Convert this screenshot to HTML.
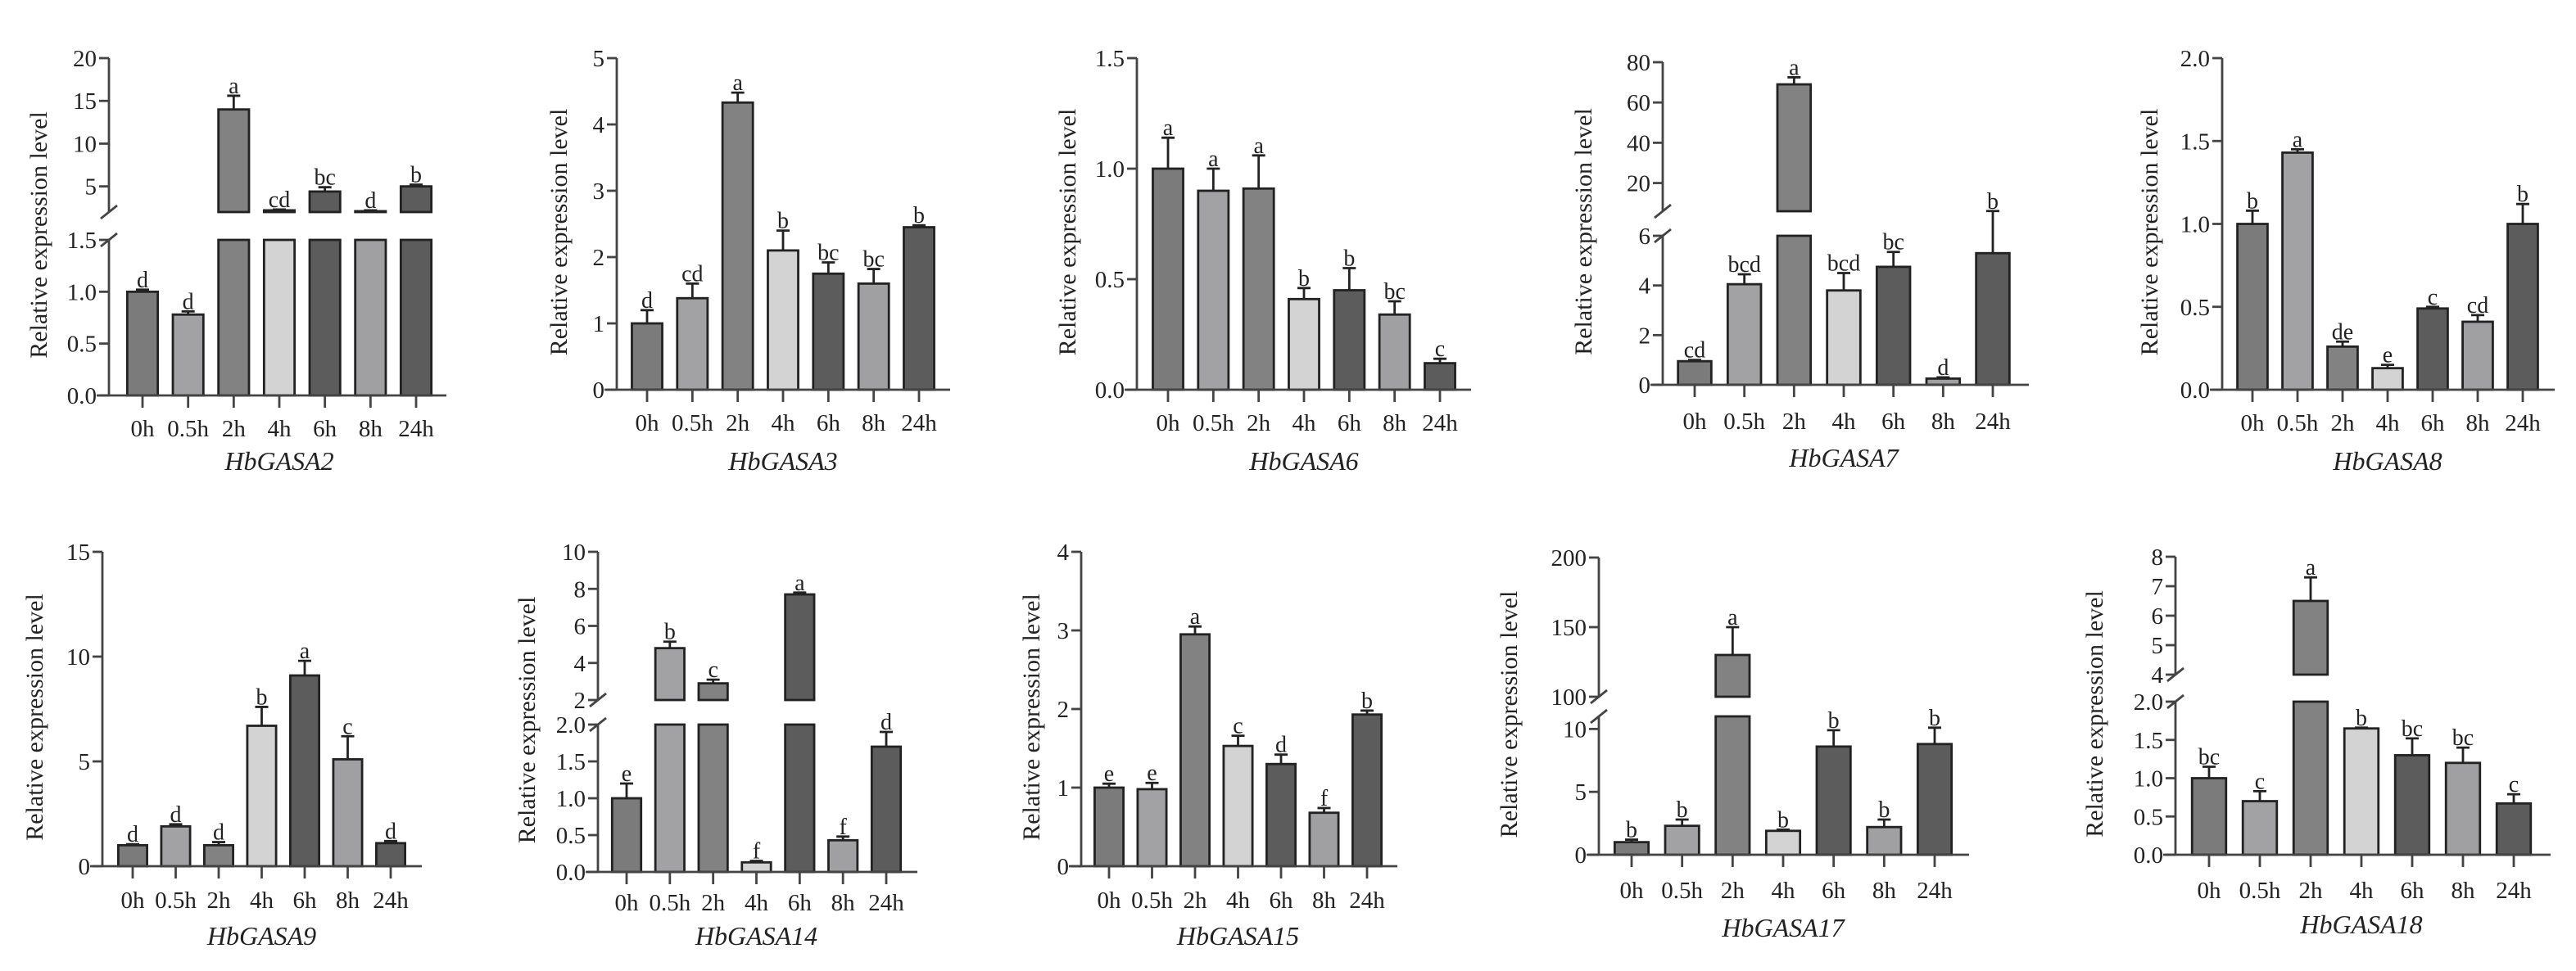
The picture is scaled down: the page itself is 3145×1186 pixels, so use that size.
<!DOCTYPE html>
<html><head><meta charset="utf-8">
<style>
html,body{margin:0;padding:0;background:#fff;}
svg{display:block;}
text{font-family:"Liberation Serif",serif;fill:#222;}
</style></head>
<body>
<svg id="chart" width="3145" height="1186" viewBox="0 0 3145 1186" xmlns="http://www.w3.org/2000/svg"></svg>
<script>
// shared categories
const categories = ["0h","0.5h","2h","4h","6h","8h","24h"];
const barColors = ["#7b7b7b","#a2a2a4","#828282","#d3d3d3","#5c5c5c","#a0a0a2","#5c5c5c"];

// HbGASA2
const g2Values = [1.0,0.78,14.0,2.2,4.4,2.1,5.0];
const g2Errors = [0.02,0.03,1.6,0.1,0.5,0.1,0.2];
const g2Letters = ["d","d","a","cd","bc","d","b"];
// HbGASA3
const g3Values = [1.0,1.38,4.33,2.1,1.75,1.6,2.45];
const g3Errors = [0.2,0.22,0.15,0.3,0.17,0.22,0.03];
const g3Letters = ["d","cd","a","b","bc","bc","b"];
// HbGASA6
const g6Values = [1.0,0.9,0.91,0.41,0.45,0.34,0.12];
const g6Errors = [0.14,0.1,0.15,0.05,0.1,0.06,0.02];
const g6Letters = ["a","a","a","b","b","bc","c"];
// HbGASA7
const g7Values = [0.95,4.05,69,3.8,4.75,0.25,5.3];
const g7Errors = [0.05,0.4,3.5,0.7,0.6,0.05,0.8];
const g7Letters = ["cd","bcd","a","bcd","bc","d","b"];
// HbGASA8
const g8Values = [1.0,1.43,0.26,0.13,0.49,0.41,1.0];
const g8Errors = [0.08,0.02,0.03,0.02,0.01,0.04,0.12];
const g8Letters = ["b","a","de","e","c","cd","b"];
// HbGASA9
const g9Values = [1.0,1.9,1.0,6.7,9.1,5.1,1.1];
const g9Errors = [0.05,0.1,0.15,0.9,0.7,1.1,0.1];
const g9Letters = ["d","d","d","b","a","c","d"];
// HbGASA14
const g14Values = [1.0,4.8,2.9,0.13,7.7,0.43,1.7];
const g14Errors = [0.2,0.35,0.2,0.02,0.1,0.05,0.2];
const g14Letters = ["e","b","c","f","a","f","d"];
// HbGASA15
const g15Values = [1.0,0.98,2.95,1.53,1.3,0.68,1.93];
const g15Errors = [0.05,0.08,0.1,0.13,0.12,0.06,0.05];
const g15Letters = ["e","e","a","c","d","f","b"];
// HbGASA17
const g17Values = [1.0,2.3,130,1.9,8.6,2.2,8.8];
const g17Errors = [0.2,0.5,20,0.1,1.3,0.6,1.3];
const g17Letters = ["b","b","a","b","b","b","b"];
// HbGASA18
const g18Values = [1.0,0.7,6.5,1.65,1.3,1.2,0.67];
const g18Errors = [0.15,0.13,0.8,0.01,0.22,0.2,0.12];
const g18Letters = ["bc","c","a","b","bc","bc","c"];

// tick labels
const tk2Low = ["0.0","0.5","1.0","1.5"], tk2Up = ["5","10","15","20"];
const tk3 = ["0","1","2","3","4","5"];
const tk6 = ["0.0","0.5","1.0","1.5"];
const tk7Low = ["0","2","4","6"], tk7Up = ["20","40","60","80"];
const tk8 = ["0.0","0.5","1.0","1.5","2.0"];
const tk9 = ["0","5","10","15"];
const tk14Low = ["0.0","0.5","1.0","1.5","2.0"], tk14Up = ["2","4","6","8","10"];
const tk15 = ["0","1","2","3","4"];
const tk17Low = ["0","5","10"], tk17Up = ["100","150","200"];
const tk18Low = ["0.0","0.5","1.0","1.5","2.0"], tk18Up = ["4","5","6","7","8"];

const panels = [
 {name:"HbGASA2", v:g2Values, e:g2Errors, l:g2Letters, ax:133, x0:174, x1:508, xe:545, ly:523, ty:564, yt:47, segs:[
   {d:[0,1.5], r:[483,293], t:tk2Low},{d:[2,20], r:[259,71], t:tk2Up}]},
 {name:"HbGASA3", v:g3Values, e:g3Errors, l:g3Letters, ax:753, x0:790, x1:1122, xe:1160, ly:516, ty:564, yt:682, segs:[
   {d:[0,5], r:[476,71], t:tk3}]},
 {name:"HbGASA6", v:g6Values, e:g6Errors, l:g6Letters, ax:1388, x0:1426, x1:1758, xe:1796, ly:516, ty:564, yt:1303, segs:[
   {d:[0,1.5], r:[476,71], t:tk6}]},
 {name:"HbGASA7", v:g7Values, e:g7Errors, l:g7Letters, ax:2030, x0:2069, x1:2433, xe:2477, ly:514, ty:560, yt:1933, segs:[
   {d:[0,6], r:[470,288], t:tk7Low},{d:[6,80], r:[258,76], t:tk7Up}]},
 {name:"HbGASA8", v:g8Values, e:g8Errors, l:g8Letters, ax:2713, x0:2750, x1:3080, xe:3119, ly:516, ty:564, yt:2624, segs:[
   {d:[0,2], r:[476,71], t:tk8}]},
 {name:"HbGASA9", v:g9Values, e:g9Errors, l:g9Letters, ax:125, x0:162, x1:477, xe:515, ly:1099, ty:1144, yt:42, segs:[
   {d:[0,15], r:[1058,674], t:tk9}]},
 {name:"HbGASA14", v:g14Values, e:g14Errors, l:g14Letters, ax:730, x0:765, x1:1082, xe:1120, ly:1102, ty:1144, yt:643, segs:[
   {d:[0,2], r:[1065,885], t:tk14Low},{d:[2,10], r:[855,674], t:tk14Up}]},
 {name:"HbGASA15", v:g15Values, e:g15Errors, l:g15Letters, ax:1320, x0:1354, x1:1669, xe:1706, ly:1099, ty:1144, yt:1259, segs:[
   {d:[0,4], r:[1058,674], t:tk15}]},
 {name:"HbGASA17", v:g17Values, e:g17Errors, l:g17Letters, ax:1952, x0:1992, x1:2362, xe:2404, ly:1087, ty:1134, yt:1842, segs:[
   {d:[0,11], r:[1044,875], t:tk17Low},{d:[100,200], r:[851,681], t:tk17Up}]},
 {name:"HbGASA18", v:g18Values, e:g18Errors, l:g18Letters, ax:2656, x0:2697, x1:3069, xe:3114, ly:1087, ty:1130, yt:2557, segs:[
   {d:[0,2], r:[1044,857], t:tk18Low},{d:[4,8], r:[824,680], t:tk18Up}]}
];

const NS = "http://www.w3.org/2000/svg";
const svg = document.getElementById("chart");
function mk(tag, attrs, parent){
  const el = document.createElementNS(NS, tag);
  for (const k in attrs) el.setAttribute(k, attrs[k]);
  parent.appendChild(el);
  return el;
}
function scale(seg, val){
  return seg.r[0] + (val - seg.d[0]) / (seg.d[1] - seg.d[0]) * (seg.r[1] - seg.r[0]);
}
function yOf(p, val){
  for (let i = p.segs.length - 1; i >= 0; i--){
    const s = p.segs[i];
    if (val >= s.d[0] || i === 0) return scale(s, Math.min(val, s.d[1]));
  }
}

panels.forEach(function(p){
  const g = mk("g", {}, svg);
  
  
  const n = categories.length;
  const step = (p.x1 - p.x0) / (n - 1);
  const bw = step * 0.67;
  const xOf = function(i){ return p.x0 + i * step; };
  const base = p.segs[0].r[0];

  categories.forEach(function(c, i){
    const v = p.v[i];
    p.segs.forEach(function(s, si){
      if (v <= s.d[0] && si > 0) return;
      const top = scale(s, Math.min(v, s.d[1]));
      const bot = s.r[0];
      const r = mk("rect", {x:xOf(i)-bw/2, y:top, width:bw, height:Math.max(bot-top,0.5), fill:barColors[i], stroke:"#222", "stroke-width":2.8}, g);
      
      
    });
    const yv = yOf(p, v), ye = yOf(p, v + p.e[i]);
    const eb = mk("path", {d:"M"+xOf(i)+" "+yv+"V"+ye+"M"+(xOf(i)-8)+" "+ye+"H"+(xOf(i)+8), stroke:"#222", "stroke-width":2.8, fill:"none"}, g);
    
    
    const lt = mk("text", {x:xOf(i), y:ye-3, "text-anchor":"middle", "font-size":28}, g);
    lt.textContent = p.l[i];
    
    
    mk("line", {x1:xOf(i), x2:xOf(i), y1:base, y2:base+15, stroke:"#444", "stroke-width":2.8}, g);
    const xl = mk("text", {x:xOf(i), y:p.ly+10, "text-anchor":"middle", "font-size":29}, g);
    xl.textContent = c;
    
    
  });

  p.segs.forEach(function(s, si){
    const ymin = s.r[0], ymax = s.r[1];
    const ax = mk("line", {x1:p.ax, x2:p.ax, y1:ymin+(si===0?1:0), y2:ymax, stroke:"#444", "stroke-width":2.8}, g);
    
    
    s.t.forEach(function(lab){
      const val = parseFloat(lab);
      const y = scale(s, val);
      mk("line", {x1:p.ax-12, x2:p.ax, y1:y, y2:y, stroke:"#444", "stroke-width":2.8}, g);
      const tl = mk("text", {x:p.ax-15, y:y+10, "text-anchor":"end", "font-size":29}, g);
      tl.textContent = lab;
      
      
    });
    if (p.segs.length > 1){
      const yy = si === 0 ? ymax : ymin;
      mk("line", {x1:p.ax-10, x2:p.ax+10, y1:yy+8, y2:yy-8, stroke:"#444", "stroke-width":2.8}, g);
    }
  });
  const xa = mk("line", {x1:p.ax-15, x2:p.xe, y1:base, y2:base, stroke:"#444", "stroke-width":2.8}, g);
  
  

  const top = p.segs[p.segs.length-1].r[1];
  const cy = (base + top) / 2 + 10;
  const yt = mk("text", {x:0, y:0, "text-anchor":"middle", "font-size":30, transform:"translate("+(p.yt+10)+","+cy+") rotate(-90)"}, g);
  yt.textContent = "Relative expression level";
  
  
  const tt = mk("text", {x:(p.x0+p.x1)/2, y:p.ty+10, "text-anchor":"middle", "font-size":32, "font-style":"italic"}, g);
  tt.textContent = p.name;
  
  
});
</script>
</body></html>
